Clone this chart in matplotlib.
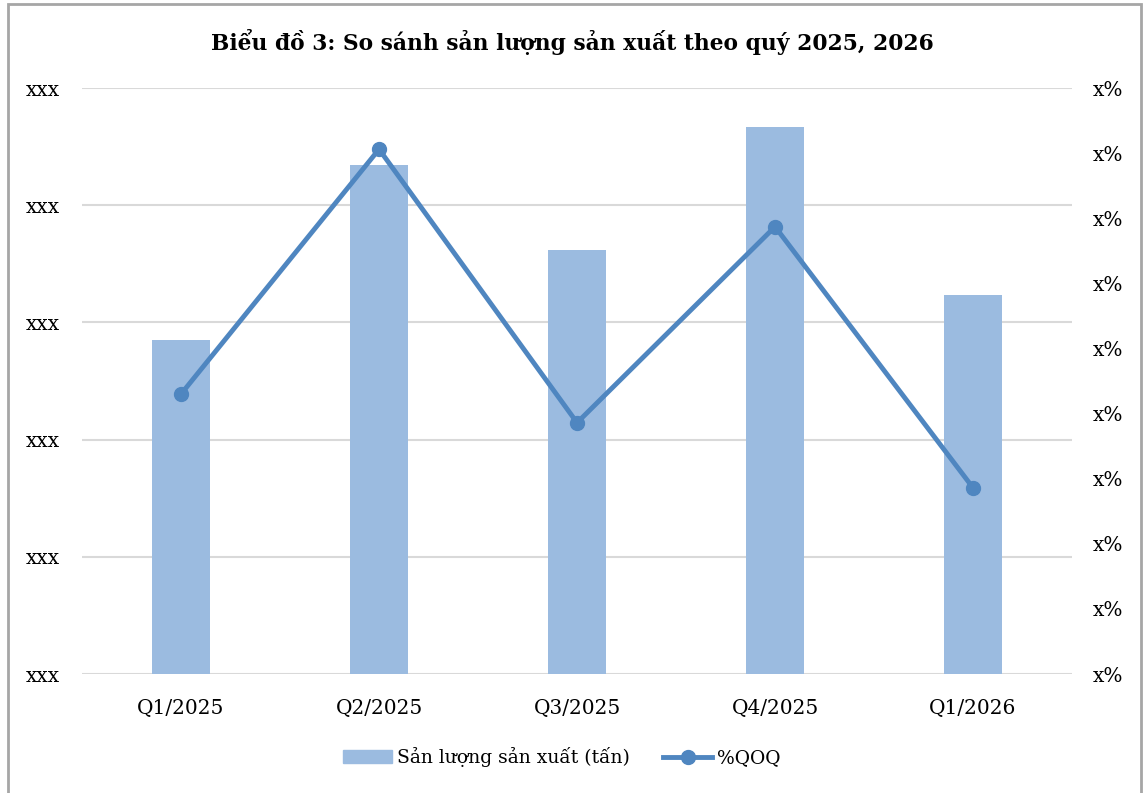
import matplotlib.pyplot as plt
import numpy as np
from matplotlib.patches import Rectangle
from matplotlib.lines import Line2D
from matplotlib.patches import Patch

plt.rcParams['font.family'] = ['DejaVu Serif']

quarters = ['Q1/2025', 'Q2/2025', 'Q3/2025', 'Q4/2025', 'Q1/2026']
san_luong = [2.85, 4.34, 3.62, 4.67, 3.23]
qoq = [4.30, 8.06, 3.86, 6.87, 2.86]
left_ticks = [0, 1, 2, 3, 4, 5]
left_labels = ['xxx'] * 6
right_ticks = list(range(10))
right_labels = ['x%'] * 10

bar_color = '#9BBBE0'
line_color = '#4F86C0'
grid_color = '#D9D9D9'

fig = plt.figure(figsize=(11.44, 7.93), dpi=100)
ax = fig.add_axes([0.0717, 0.150, 0.8654, 0.739])
x = np.arange(len(quarters))

ax.bar(x, san_luong, width=0.29, color=bar_color, zorder=2)
ax.set_ylim(0, 5)
ax.set_xlim(-0.5, len(quarters) - 0.5)
ax.set_yticks(left_ticks)
ax.set_yticklabels(left_labels)
ax.set_xticks(x)
ax.set_xticklabels(quarters)
ax.grid(axis='y', color=grid_color, linewidth=1.5, zorder=0)
ax.tick_params(axis='both', length=0, labelsize=14.5)
ax.tick_params(axis='y', pad=16)
ax.tick_params(axis='x', pad=18)
for s in ax.spines.values():
    s.set_visible(False)

ax2 = ax.twinx()
ax2.plot(x, qoq, color=line_color, linewidth=3.5, marker='o', markersize=10, zorder=3)
ax2.set_ylim(0, 9)
ax2.set_yticks(right_ticks)
ax2.set_yticklabels(right_labels)
ax2.tick_params(axis='y', length=0, labelsize=14.5, pad=15)
for s in ax2.spines.values():
    s.set_visible(False)

fig.text(0.5, 0.947, 'Biểu đồ 3: So sánh sản lượng sản xuất theo quý 2025, 2026',
         ha='center', va='center', fontsize=15.7, fontweight='bold')

handles = [Patch(color=bar_color, label='Sản lượng sản xuất (tấn)'),
           Line2D([0], [0], color=line_color, linewidth=3.5, marker='o', markersize=10,
                  label='%QOQ')]
fig.legend(handles=handles, loc='center', bbox_to_anchor=(0.491, 0.045), ncol=2,
           frameon=False, fontsize=13.5, handlelength=2.6, columnspacing=1.8,
           handletextpad=0.25)

fig.patches.append(Rectangle((8 / 1144, -0.05), (1141 - 8) / 1144, 1.05 - 4 / 793,
                             transform=fig.transFigure, fill=False,
                             edgecolor='#A6A6A6', linewidth=2))

fig.savefig('out.png', dpi=100)
